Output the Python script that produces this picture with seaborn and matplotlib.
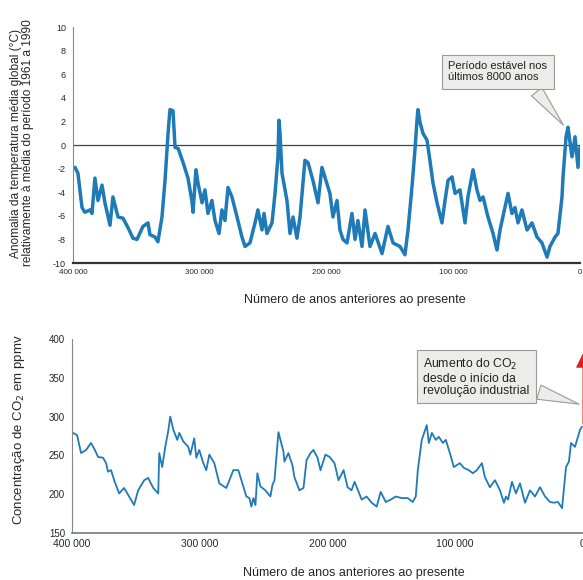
import matplotlib
matplotlib.use("Agg")
import matplotlib.pyplot as plt
import seaborn as sns
import pandas as pd

# ---- data: temperature anomaly (°C), thousands of years before present ----
temp_kyr = [398.4, 396.1, 392.9, 390.6, 386.6, 385.0, 382.7, 380.3, 377.1, 374.8,
            370.8, 368.5, 364.5, 360.6, 356.6, 352.7, 349.5, 344.8, 340.8, 339.3,
            335.3, 333.0, 329.8, 327.4, 325.0, 323.5, 321.1, 319.5, 317.0, 313.1,
            309.3, 306.1, 305.3, 303.0, 301.4, 298.2, 295.9, 293.5, 290.4, 288.0,
            284.8, 282.5, 280.1, 277.7, 274.6, 270.6, 266.7, 264.3, 260.4, 256.4,
            254.1, 250.9, 249.3, 247.0, 243.0, 240.6, 238.3, 237.5, 236.7, 235.1,
            231.2, 228.8, 226.4, 223.3, 220.9, 217.0, 214.6, 210.7, 206.7, 203.6,
            197.3, 194.9, 191.7, 189.4, 187.0, 183.8, 179.9, 177.5, 175.2, 172.0,
            169.6, 165.7, 161.7, 156.2, 151.5, 147.5, 142.0, 138.1, 135.7, 132.6,
            130.2, 128.6, 127.8, 126.2, 123.9, 120.7, 118.4, 116.0, 112.8, 108.9,
            106.5, 104.1, 101.0, 98.6, 94.7, 90.7, 88.4, 84.4, 81.3, 78.9,
            76.5, 72.6, 68.6, 65.5, 63.1, 59.2, 56.8, 53.7, 51.3, 48.9,
            45.8, 41.8, 37.9, 33.9, 30.0, 26.0, 23.7, 19.7, 17.4, 14.2,
            13.4, 11.0, 9.5, 6.3, 3.9, 1.6, 0.0]
temp_val = [-1.9, -2.4, -5.3, -5.7, -5.5, -5.8, -2.8, -4.7, -3.4, -4.9,
            -6.8, -4.4, -6.1, -6.2, -7.0, -7.9, -8.0, -6.9, -6.6, -7.6,
            -7.8, -8.2, -6.1, -3.0, 1.0, 3.0, 2.9, -0.2, -0.3, -1.5,
            -2.8, -4.8, -5.7, -2.1, -3.2, -4.9, -3.8, -5.8, -4.7, -6.4,
            -7.5, -5.5, -6.4, -3.6, -4.4, -6.1, -7.8, -8.6, -8.3, -6.6,
            -5.5, -7.2, -5.8, -7.5, -6.6, -4.1, -1.0, 2.1, 1.0, -2.4,
            -4.7, -7.5, -6.1, -7.9, -6.1, -1.3, -1.5, -3.0, -4.9, -1.9,
            -4.1, -6.1, -4.7, -7.2, -8.0, -8.3, -5.8, -8.0, -6.4, -8.6,
            -5.5, -8.6, -7.5, -9.2, -6.9, -8.3, -8.6, -9.3, -7.2, -3.6,
            -0.4, 2.1, 3.0, 1.9, 1.0, 0.4, -1.3, -3.2, -4.9, -6.6,
            -4.7, -3.0, -2.7, -4.1, -3.8, -6.6, -4.4, -2.1, -3.8, -4.7,
            -4.4, -6.1, -7.5, -8.9, -7.2, -5.3, -4.1, -5.8, -5.3, -6.6,
            -5.5, -7.2, -6.6, -7.8, -8.3, -9.5, -8.6, -7.8, -7.5, -4.4,
            -2.7, 0.7, 1.5, -1.0, 0.7, -1.9, -0.2]

# ---- data: CO2 concentration (ppmv) ----
co2_kyr = [399.2, 396.0, 392.9, 389.0, 385.1, 382.7, 379.6, 375.7, 373.3, 371.8,
           369.4, 367.0, 363.1, 359.2, 355.3, 351.4, 348.2, 343.5, 340.4, 336.4,
           332.5, 331.7, 329.4, 327.0, 324.7, 323.1, 320.7, 317.6, 316.0, 312.9,
           309.0, 307.4, 304.3, 302.7, 300.4, 297.2, 294.9, 292.5, 288.6, 284.7,
           279.2, 273.7, 269.8, 267.4, 263.5, 261.1, 259.6, 258.0, 256.4, 254.9,
           252.5, 248.6, 244.7, 243.1, 241.5, 238.4, 234.5, 233.7, 230.6, 227.4,
           225.9, 222.0, 218.8, 216.4, 213.3, 211.0, 207.8, 205.5, 201.6, 198.4,
           194.5, 191.4, 187.4, 184.3, 181.2, 178.8, 175.6, 173.3, 169.4, 165.4,
           161.5, 158.4, 154.4, 150.5, 146.6, 141.9, 137.2, 133.3, 130.9, 129.3,
           126.2, 122.3, 120.7, 118.3, 115.2, 112.9, 109.7, 107.4, 104.2, 101.1,
           96.4, 93.3, 89.4, 86.2, 83.1, 79.1, 76.8, 72.9, 68.9, 65.0,
           61.9, 60.3, 58.7, 55.6, 52.5, 49.3, 45.4, 41.5, 37.6, 33.7,
           29.7, 25.8, 22.7, 19.6, 16.4, 13.3, 11.0, 9.4, 6.3, 4.7, 2.3, 0.8]
co2_val = [279, 276, 253, 257, 266, 259, 248, 247, 240, 229,
           231, 218, 201, 208, 197, 186, 205, 218, 221, 208,
           201, 253, 235, 261, 281, 300, 283, 270, 279, 268,
           261, 251, 272, 247, 257, 240, 231, 251, 240, 214,
           208, 231, 231, 218, 197, 195, 184, 195, 186, 227,
           210, 205, 197, 212, 218, 280, 255, 242, 253, 237,
           222, 205, 208, 244, 253, 257, 247, 231, 251, 248,
           240, 218, 231, 209, 205, 216, 203, 193, 197, 189,
           184, 203, 190, 193, 197, 195, 195, 190, 197, 231,
           270, 289, 266, 279, 270, 274, 266, 270, 253, 235,
           240, 234, 231, 227, 231, 240, 222, 209, 218, 205,
           189, 197, 193, 216, 201, 214, 189, 205, 197, 209,
           197, 190, 189, 190, 182, 235, 242, 266, 261, 270, 283, 287]
co2_now = [287, 385]

x_ticks = [400000, 300000, 200000, 100000, 0]
x_tick_labels = ["400 000", "300 000", "200 000", "100 000", "0"]
temp_ticks = list(range(-10, 11, 2))
co2_ticks = [150, 200, 250, 300, 350, 400]

sns.set_style("white")
plt.rcParams["font.family"] = ["Liberation Sans", "DejaVu Sans"]

line_color = "#1f7ab8"
temp_df = pd.DataFrame({"anos": [k * 1000 for k in temp_kyr], "temp": temp_val})
co2_df = pd.DataFrame({"anos": [k * 1000 for k in co2_kyr], "co2": co2_val})

fig = plt.figure(figsize=(5.83, 5.80), dpi=100)
W, H = 583, 580
ax1 = fig.add_axes([73 / W, 1 - 263 / H, (580 - 73) / W, (263 - 27) / H])
ax2 = fig.add_axes([72 / W, 1 - 533 / H, (583 - 72) / W, (533 - 339) / H])

# ---- top chart ----
sns.lineplot(data=temp_df, x="anos", y="temp", ax=ax1, color=line_color,
             linewidth=2.5, estimator=None, sort=False)
ax1.axhline(0, color="#444444", linewidth=0.9, zorder=1)
ax1.set_xlim(400000, 0)
ax1.set_ylim(-10, 10)
ax1.set_yticks(temp_ticks)
ax1.set_yticklabels([str(t) for t in temp_ticks])
ax1.set_xticks(x_ticks)
ax1.set_xticklabels(x_tick_labels)
ax1.set_xlabel("Número de anos anteriores ao presente", fontsize=9)
ax1.xaxis.set_label_coords((355 - 73) / 507, (263 - 294) / 236)
ax1.set_ylabel("Anomalia da temperatura média global (°C)\n"
               "relativamente à média do período 1961 a 1990",
               fontsize=8.6, linespacing=1.05)
ax1.yaxis.set_label_coords((34 - 73) / 507, (263 - 143) / 236)
for s in ["top", "right"]:
    ax1.spines[s].set_visible(False)
ax1.spines["left"].set_color("#888888")
ax1.spines["left"].set_linewidth(0.8)
ax1.spines["bottom"].set_color("#333333")
ax1.spines["bottom"].set_linewidth(1.6)
ax1.tick_params(axis="y", direction="out", length=3, width=0.7, color="#666666",
                labelsize=6.5, pad=2)
ax1.tick_params(axis="x", direction="in", length=3, width=0.7, color="#444444",
                labelsize=5.8, pad=4)
ax1.annotate("Período estável nos\núltimos 8000 anos",
             xy=(11800, 1.5), xytext=(104000, 6.2),
             fontsize=8, ha="left", va="center", color="#222222", linespacing=1.15,
             bbox=dict(boxstyle="square,pad=0.6", fc="#ececea", ec="#9a9a9a", lw=0.8),
             arrowprops=dict(arrowstyle="wedge,tail_width=1.2,shrink_factor=0.5",
                             fc="#ececea", ec="#9a9a9a", lw=0.8,
                             relpos=(0.82, 0.0)))

# ---- bottom chart ----
sns.lineplot(data=co2_df, x="anos", y="co2", ax=ax2, color=line_color,
             linewidth=1.3, estimator=None, sort=False)
ax2.set_xlim(400000, 0)
ax2.set_ylim(150, 400)
ax2.set_yticks(co2_ticks)
ax2.set_yticklabels([str(t) for t in co2_ticks])
ax2.set_xticks(x_ticks)
ax2.set_xticklabels(x_tick_labels)
ax2.set_xlabel("Número de anos anteriores ao presente", fontsize=9)
ax2.xaxis.set_label_coords((354 - 72) / 511, (533 - 567) / 194)
ax2.set_ylabel("Concentração de CO$_2$ em ppmv", fontsize=9.5)
ax2.yaxis.set_label_coords((27 - 72) / 511, (533 - 430) / 194)
for s in ["top", "right"]:
    ax2.spines[s].set_visible(False)
ax2.spines["left"].set_color("#888888")
ax2.spines["left"].set_linewidth(0.8)
ax2.spines["bottom"].set_color("#6f7f6f")
ax2.spines["bottom"].set_linewidth(1.2)
ax2.tick_params(axis="y", direction="out", length=3, width=0.7, color="#666666",
                labelsize=7, pad=2)
ax2.tick_params(axis="x", direction="in", length=3, width=0.7, color="#444444",
                labelsize=7.5, pad=4)
ax2.annotate("", xy=(0, co2_now[1]), xytext=(0, co2_now[0]),
             arrowprops=dict(arrowstyle="-|>,head_width=0.45,head_length=0.9",
                             color="#e02020", lw=0.8), annotation_clip=False)
ax2.annotate("Aumento do CO$_2$\ndesde o início da\nrevolução industrial",
             xy=(1000, 315), xytext=(125000, 351),
             fontsize=8.8, ha="left", va="center", color="#222222", linespacing=1.02,
             bbox=dict(boxstyle="square,pad=0.5", fc="#ececea", ec="#9a9a9a", lw=0.8),
             arrowprops=dict(arrowstyle="wedge,tail_width=1.2,shrink_factor=0.5",
                             fc="#ececea", ec="#9a9a9a", lw=0.8,
                             relpos=(0.92, 0.25)))

fig.savefig("out.png", dpi=100)
